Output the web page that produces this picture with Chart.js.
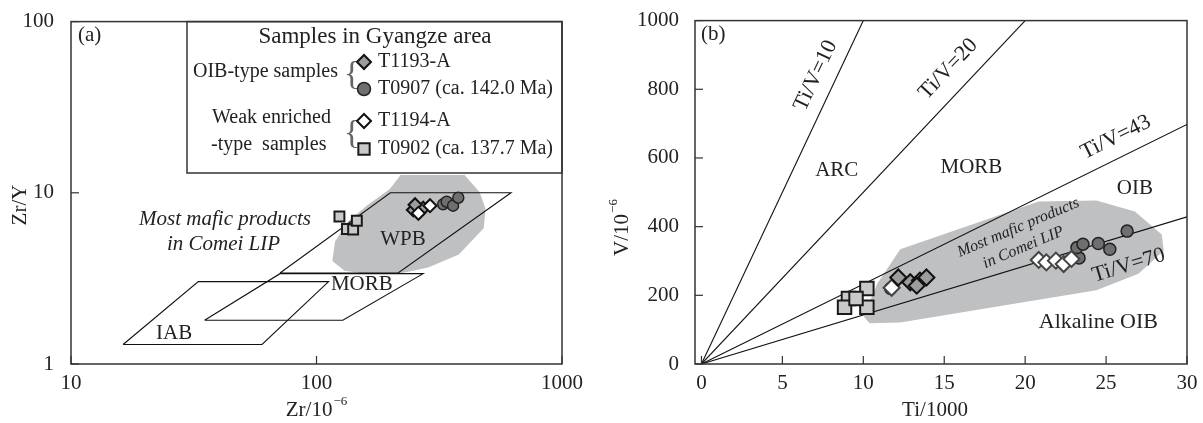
<!DOCTYPE html>
<html>
<head>
<meta charset="utf-8">
<script src="https://cdn.jsdelivr.net/npm/chart.js@4.4.1/dist/chart.umd.min.js"></script>
<style>
html, body { margin: 0; padding: 0; background: #fff; }
#wrap { position: relative; width: 1203px; height: 423px; }
.panel { position: absolute; top: 0; height: 423px; }
#pa { left: 0; width: 600px; }
#pb { left: 600px; width: 603px; }
</style>
</head>
<body>
<div id="wrap">
  <div class="panel" id="pa"><canvas id="chartA"></canvas></div>
  <div class="panel" id="pb"><canvas id="chartB"></canvas></div>
</div>
<script>
const FONT = 'Liberation Serif';

// ---------- (a) Zr/Y vs Zr ----------
const zrTicks = [10, 100, 1000];
const zrYTicks = [1, 10, 100];

const wpbZr   = [71, 200, 620, 215, 71];
const wpbZrY  = [3.4, 10, 10, 3.4, 3.4];
const morbZr  = [35, 71, 272, 128, 35];
const morbZrY = [1.8, 3.37, 3.37, 1.8, 1.8];
const iabZr   = [16.3, 33, 112, 60, 16.3];
const iabZrY  = [1.3, 3.03, 3.03, 1.3, 1.3];
const comeiZr  = [243, 401, 462, 488, 480, 380, 285, 214, 161, 130, 116, 119, 134, 161, 199, 220, 243];
const comeiZrY = [12.7, 12.7, 10.07, 8.08, 6.2, 4.36, 3.66, 3.35, 3.35, 3.5, 4.0, 5.2, 6.77, 8.45, 10.52, 12.7, 12.7];

const t0902Zr  = [133, 141, 124, 146];
const t0902ZrY = [6.15, 6.11, 7.27, 6.86];
const t0907Zr  = [328, 339, 360, 378];
const t0907ZrY = [8.56, 8.87, 8.41, 9.36];
const t1193Zr  = [248, 272, 252];
const t1193ZrY = [7.94, 8.12, 8.52];
const t1194Zr  = [260, 290];
const t1194ZrY = [7.59, 8.41];

// ---------- (b) V vs Ti/1000 ----------
const tiTicks = [0, 5, 10, 15, 20, 25, 30];
const vTicks = [0, 200, 400, 600, 800, 1000];
const tiVRatios = [10, 20, 43, 70];

const comeiTi = [12.28, 20.84, 24.4, 26.78, 28.44, 28.56, 27.0, 24.4, 12.28, 10.38, 10.03, 10.86, 12.28];
const comeiV  = [334, 473, 476, 444, 377, 330, 263, 215, 121, 119, 138, 234, 334];

const t0902Ti = [9.08, 8.84, 10.22, 10.22, 9.55];
const t0902V  = [191, 165, 165, 220, 191];
const t0907Ti = [11.69, 23.33, 23.2, 23.57, 24.52, 25.23, 26.3];
const t0907V  = [220, 309, 339, 349, 351, 334, 387];
const t1193Ti = [12.16, 12.9, 13.5, 13.3, 13.9];
const t1193V  = [252, 238, 243, 228, 252];
const t1194Ti = [11.75, 20.84, 21.31, 21.9, 22.38, 22.86];
const t1194V  = [222, 303, 296, 301, 291, 306];

const pts = (xs, ys) => xs.map((x, i) => ({x: x, y: ys[i]}));

const styles = {
  t1193: {pointStyle: 'rectRot', backgroundColor: '#9c9c9c', borderColor: '#111', borderWidth: 2},
  t0907: {pointStyle: 'circle', backgroundColor: '#6f6f71', borderColor: '#222', borderWidth: 1.5},
  t1194: {pointStyle: 'rectRot', backgroundColor: '#ffffff', borderColor: '#111', borderWidth: 2},
  t0902: {pointStyle: 'rect', backgroundColor: '#c9c9c9', borderColor: '#1a1a1a', borderWidth: 2}
};
const fieldGray = '#bfc0c2';

function supText(ctx, base, sup, cx, cy, angle, size) {
  ctx.save();
  ctx.translate(cx, cy);
  ctx.rotate(angle);
  ctx.font = size + 'px "' + FONT + '"';
  const wb = ctx.measureText(base).width;
  const ss = Math.round(size * 0.62);
  ctx.font = ss + 'px "' + FONT + '"';
  const ws = ctx.measureText(sup).width;
  const x0 = -(wb + ws) / 2;
  ctx.textAlign = 'left';
  ctx.textBaseline = 'middle';
  ctx.fillStyle = '#222';
  ctx.font = size + 'px "' + FONT + '"';
  ctx.fillText(base, x0, 0);
  ctx.font = ss + 'px "' + FONT + '"';
  ctx.fillText(sup, x0 + wb + 1, -size * 0.38);
  ctx.restore();
}

function textAt(ctx, s, x, y, font, angle, align) {
  ctx.save();
  ctx.translate(x, y);
  ctx.rotate(angle || 0);
  ctx.font = font;
  ctx.fillStyle = '#222';
  ctx.textAlign = align || 'center';
  ctx.textBaseline = 'middle';
  ctx.fillText(s, 0, 0);
  ctx.restore();
}

// frame + inward ticks
const frameTicks = {
  id: 'frameTicks',
  afterDraw(chart) {
    const {ctx, chartArea: a, scales} = chart;
    ctx.save();
    ctx.strokeStyle = '#333';
    ctx.lineWidth = 1.5;
    ctx.strokeRect(a.left, a.top, a.right - a.left, a.bottom - a.top);
    ctx.lineWidth = 1.2;
    scales.x.ticks.forEach(t => {
      const px = scales.x.getPixelForValue(t.value);
      ctx.beginPath(); ctx.moveTo(px, a.bottom); ctx.lineTo(px, a.bottom - 8); ctx.stroke();
    });
    scales.y.ticks.forEach(t => {
      const py = scales.y.getPixelForValue(t.value);
      ctx.beginPath(); ctx.moveTo(a.left, py); ctx.lineTo(a.left + 8, py); ctx.stroke();
    });
    ctx.restore();
  }
};

function scatterSet(data, st, r, order) {
  return Object.assign({data: data, pointRadius: r, pointHoverRadius: r, order: order}, st);
}
function fieldLine(data, order) {
  return {data: data, showLine: true, pointRadius: 0, borderColor: '#111', borderWidth: 1.1, fill: false, order: order};
}
function fieldFill(data, order) {
  return {data: data, showLine: true, pointRadius: 0, borderWidth: 0, borderColor: fieldGray,
          backgroundColor: fieldGray, fill: 'shape', order: order};
}

const tickFont = {family: FONT, size: 21};

// ---------------- chart (a) ----------------
const legendA = {
  id: 'legendA',
  afterDatasetsDraw(chart) {
    const {ctx, chartArea: a, scales} = chart;
    const sx = scales.x, sy = scales.y;
    const f21 = '21px "' + FONT + '"';
    const f20 = '20px "' + FONT + '"';
    const fi = 'italic 21px "' + FONT + '"';
    textAt(ctx, 'WPB', sx.getPixelForValue(225), sy.getPixelForValue(5.35), f21);
    textAt(ctx, 'MORB', sx.getPixelForValue(153), sy.getPixelForValue(2.93), f21);
    textAt(ctx, 'IAB', sx.getPixelForValue(26.3), sy.getPixelForValue(1.505), f21);
    textAt(ctx, 'Most mafic products', sx.getPixelForValue(42.4), sy.getPixelForValue(6.98), fi);
    textAt(ctx, 'in Comei LIP', sx.getPixelForValue(41.8), sy.getPixelForValue(5.0), fi);
    textAt(ctx, '(a)', a.left + 7, a.top + 14, f21, 0, 'left');

    // legend box
    const bx = 187, by = a.top, bw = a.right - bx, bh = 173 - a.top;
    ctx.save();
    ctx.fillStyle = '#fff';
    ctx.fillRect(bx, by, bw, bh);
    ctx.strokeStyle = '#333';
    ctx.lineWidth = 1.5;
    ctx.strokeRect(bx, by, bw, bh);
    ctx.restore();
    textAt(ctx, 'Samples in Gyangze area', 375, 37, '23px "' + FONT + '"');
    textAt(ctx, 'OIB-type samples', 193, 72, f20, 0, 'left');
    textAt(ctx, 'Weak enriched', 212, 118, f20, 0, 'left');
    textAt(ctx, '-type  samples', 211, 145, f20, 0, 'left');
    ctx.save();
    ctx.fillStyle = '#666';
    ctx.font = '34px "' + FONT + '"';
    ctx.textAlign = 'center'; ctx.textBaseline = 'middle';
    ctx.fillText('{', 352, 75);
    ctx.fillText('{', 352, 134);
    ctx.restore();
    const items = [
      [styles.t1193, 7, 62, 'T1193-A'],
      [styles.t0907, 6.5, 89, 'T0907 (ca. 142.0 Ma)'],
      [styles.t1194, 7, 121, 'T1194-A'],
      [styles.t0902, 8, 149, 'T0902 (ca. 137.7 Ma)']
    ];
    items.forEach(([st, r, y, label]) => {
      ctx.save();
      ctx.fillStyle = st.backgroundColor;
      ctx.strokeStyle = st.borderColor;
      ctx.lineWidth = st.borderWidth;
      Chart.helpers.drawPoint(ctx, {pointStyle: st.pointStyle, radius: r, borderWidth: st.borderWidth, rotation: 0}, 364, y);
      ctx.restore();
      textAt(ctx, label, 378, y, f20, 0, 'left');
    });

    // axis titles
    supText(ctx, 'Zr/Y', '', 20, 205, -Math.PI / 2, 21);
    supText(ctx, 'Zr/10', '\u22126', 316, 410, 0, 21);
  }
};

new Chart(document.getElementById('chartA'), {
  type: 'scatter',
  data: {
    datasets: [
      scatterSet(pts(t0907Zr, t0907ZrY), styles.t0907, 5.5, 1),
      scatterSet(pts(t1194Zr, t1194ZrY), styles.t1194, 6.5, 2),
      scatterSet(pts(t1193Zr, t1193ZrY), styles.t1193, 6.5, 3),
      scatterSet(pts(t0902Zr, t0902ZrY), styles.t0902, 7, 4),
      fieldLine(pts(wpbZr, wpbZrY), 5),
      fieldLine(pts(morbZr, morbZrY), 6),
      fieldLine(pts(iabZr, iabZrY), 7),
      fieldFill(pts(comeiZr, comeiZrY), 8)
    ]
  },
  options: {
    responsive: true,
    maintainAspectRatio: false,
    animation: false,
    devicePixelRatio: 1,
    layout: {padding: {top: 18, right: 38, left: 0, bottom: 0}},
    plugins: {legend: {display: false}, tooltip: {enabled: false}},
    scales: {
      x: {
        type: 'logarithmic', min: 10, max: 1000,
        afterBuildTicks: s => { s.ticks = zrTicks.map(v => ({value: v})); },
        afterFit: s => { s.height = 59; },
        grid: {display: false}, border: {display: false},
        ticks: {font: tickFont, color: '#222', padding: -1, autoSkip: false, maxRotation: 0, callback: v => String(v)}
      },
      y: {
        type: 'logarithmic', min: 1, max: 100,
        afterBuildTicks: s => { s.ticks = zrYTicks.map(v => ({value: v})); },
        afterFit: s => { s.width = 71; },
        grid: {display: false}, border: {display: false},
        ticks: {font: tickFont, color: '#222', padding: 9, autoSkip: false, callback: v => String(v)}
      }
    }
  },
  plugins: [legendA, frameTicks]
});

// ---------------- chart (b) ----------------
const xMaxB = 30, yMaxB = 1000;
const ratioLines = tiVRatios.map(r => {
  const xEnd = Math.min(xMaxB, yMaxB * r / 1000);
  return fieldLine([{x: 0, y: 0}, {x: xEnd, y: xEnd * 1000 / r}], 5);
});

const notesB = {
  id: 'notesB',
  afterDatasetsDraw(chart) {
    const {ctx, chartArea: a, scales} = chart;
    const sx = scales.x, sy = scales.y;
    const f21 = '21px "' + FONT + '"';
    const fi = 'italic 16px "' + FONT + '"';
    const lineAngle = r => {
      const x0 = sx.getPixelForValue(0), y0 = sy.getPixelForValue(0);
      const x1 = sx.getPixelForValue(10), y1 = sy.getPixelForValue(10 * 1000 / r);
      return Math.atan2(y1 - y0, x1 - x0);
    };
    [[10, 7.06, 840], [20, 15.25, 859], [43, 25.6, 660], [70, 26.4, 287]].forEach(([r, x, y]) => {
      textAt(ctx, 'Ti/V=' + r, sx.getPixelForValue(x), sy.getPixelForValue(y), '22px "' + FONT + '"', lineAngle(r));
    });
    textAt(ctx, 'ARC', sx.getPixelForValue(8.36), sy.getPixelForValue(564), f21);
    textAt(ctx, 'MORB', sx.getPixelForValue(16.68), sy.getPixelForValue(573), f21);
    textAt(ctx, 'OIB', sx.getPixelForValue(26.78), sy.getPixelForValue(511), f21);
    textAt(ctx, 'Alkaline OIB', sx.getPixelForValue(24.52), sy.getPixelForValue(121), '22px "' + FONT + '"');
    const rot = -23 * Math.PI / 180;
    textAt(ctx, 'Most mafic products', sx.getPixelForValue(19.58), sy.getPixelForValue(397), fi, rot);
    textAt(ctx, 'in Comei LIP', sx.getPixelForValue(19.89), sy.getPixelForValue(339), fi, rot);
    textAt(ctx, '(b)', a.left + 6, a.top + 14, f21, 0, 'left');
    supText(ctx, 'V/10', '\u22126', 22, 228, -Math.PI / 2, 21);
    supText(ctx, 'Ti/1000', '', 335, 410, 0, 21);
  }
};

new Chart(document.getElementById('chartB'), {
  type: 'scatter',
  data: {
    datasets: [
      scatterSet(pts(t1193Ti, t1193V), styles.t1193, 8, 1),
      scatterSet(pts(t1194Ti, t1194V), Object.assign({}, styles.t1194, {borderColor: '#444'}), 8, 2),
      scatterSet(pts(t0907Ti, t0907V), styles.t0907, 6, 3),
      scatterSet(pts(t0902Ti, t0902V), styles.t0902, 9.5, 4),
      ...ratioLines,
      fieldFill(pts(comeiTi, comeiV), 8)
    ]
  },
  options: {
    responsive: true,
    maintainAspectRatio: false,
    animation: false,
    devicePixelRatio: 1,
    layout: {padding: {top: 18, right: 16, left: 0, bottom: 0}},
    plugins: {legend: {display: false}, tooltip: {enabled: false}},
    scales: {
      x: {
        type: 'linear', min: -0.4, max: xMaxB,
        afterBuildTicks: s => { s.ticks = tiTicks.map(v => ({value: v})); },
        afterFit: s => { s.height = 59; },
        grid: {display: false}, border: {display: false},
        ticks: {font: tickFont, color: '#222', padding: -1, autoSkip: false, maxRotation: 0, callback: v => String(v)}
      },
      y: {
        type: 'linear', min: 0, max: yMaxB,
        afterBuildTicks: s => { s.ticks = vTicks.map(v => ({value: v})); },
        afterFit: s => { s.width = 95; },
        grid: {display: false}, border: {display: false},
        ticks: {font: tickFont, color: '#222', padding: 8, autoSkip: false, callback: v => String(v)}
      }
    }
  },
  plugins: [notesB, frameTicks]
});
</script>
</body>
</html>
